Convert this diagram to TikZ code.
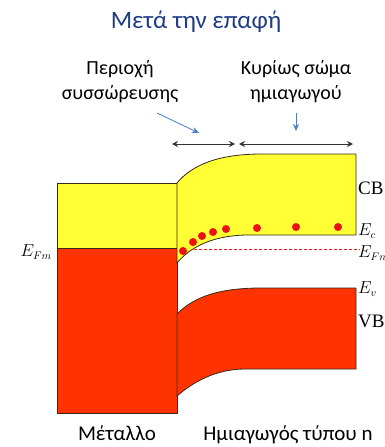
\documentclass[tikz,border=0pt]{standalone}
\usepackage{fontspec}
\setmainfont{Carlito}
\newfontfamily\tms{Liberation Serif}
\usetikzlibrary{arrows.meta}
\definecolor{titleblue}{HTML}{1F3C88}
\definecolor{arrowblue}{HTML}{4A7EC0}
\definecolor{bandyellow}{HTML}{FFFF33}
\definecolor{bandred}{HTML}{FF3300}
\definecolor{dotred}{HTML}{EE1111}
\definecolor{edge}{HTML}{3A2A1A}
\tikzset{
  label/.style={font=\fontsize{20}{25}\selectfont, align=center},
  level/.style={font=\fontsize{16}{18}\selectfont, anchor=west, inner sep=1pt},
  band/.style={draw=edge, line width=0.8pt},
  bluearrow/.style={arrowblue, line width=0.8pt, -{Stealth[length=7pt, width=6pt]}},
  span/.style={black!80, line width=0.8pt, {Stealth[length=6pt, width=6pt]}-{Stealth[length=6pt, width=6pt]}}
}

\begin{document}
\begin{tikzpicture}[x=1pt, y=-1pt]
    \useasboundingbox (0, 0) rectangle (385, 447);

    \node[titleblue, font=\fontsize{25}{28}\selectfont] (title) at (196, 22) {Μετά την επαφή};
    \node[label] (accum) at (120, 82) {Περιοχή\\συσσώρευσης};
    \node[label] (bulk) at (296, 82) {Κυρίως σώμα\\ημιαγωγού};

    % pointers and widths
    \coordinate (accFrom) at (157, 113);
    \coordinate (accTo) at (199, 133);
    \coordinate (bulkFrom) at (296, 113);
    \coordinate (bulkTo) at (296, 131);
    \draw[bluearrow] (accFrom) -- (accTo);
    \draw[bluearrow] (bulkFrom) -- (bulkTo);
    \coordinate (accL) at (172, 144);
    \coordinate (accR) at (235, 144);
    \coordinate (bulkL) at (239, 144);
    \coordinate (bulkR) at (353, 144);
    \draw[span] (accL) -- (accR);
    \draw[span] (bulkL) -- (bulkR);

    % metal
    \draw[band, fill=bandyellow] (57, 183) rectangle (177, 248);
    \draw[band, fill=bandred] (57, 248) rectangle (177, 413);

    % semiconductor bands
    \draw[band, fill=bandyellow] (177, 263) -- (177, 183)
        .. controls (192, 165) and (218, 154) .. (262, 154) -- (356, 154) -- (356, 235) -- (245, 235)
        .. controls (215, 236) and (192, 245) .. (177, 263) -- cycle;
    \draw[band, fill=bandred] (177, 314)
        .. controls (195, 296) and (220, 288) .. (262, 288) -- (356, 288) -- (356, 369) -- (245, 369)
        .. controls (215, 369) and (192, 383) .. (177, 396) -- cycle;

    \draw[dotred, line width=0.8pt, dash pattern=on 3pt off 2pt] (194, 249) -- (360, 249);
    \foreach \px/\py in {183/251, 193/242, 202/236, 213/232, 226/229, 257/228, 296/227, 338/227}
        \fill[dotred] (\px, \py) circle (4);

    \node[level, font=\fontsize{19}{20}\selectfont] (cb) at (357, 188) {\tms CB};
    \node[level] (ec) at (357, 231) {$E_c$};
    \node[level] (efn) at (357, 253) {$E_{Fn}$};
    \node[level] (ev) at (357, 289) {$E_v$};
    \node[level, font=\fontsize{19}{20}\selectfont] (vb) at (357, 321) {\tms VB};
    \node[level, anchor=east] (efm) at (53, 252) {$E_{Fm}$};

    \node[label, font=\fontsize{21}{25}\selectfont, anchor=base] (metal) at (117, 440) {Μέταλλο};
    \node[label, font=\fontsize{21}{25}\selectfont, anchor=base] (semi) at (288, 440) {Ημιαγωγός τύπου n};
\end{tikzpicture}
\end{document}
